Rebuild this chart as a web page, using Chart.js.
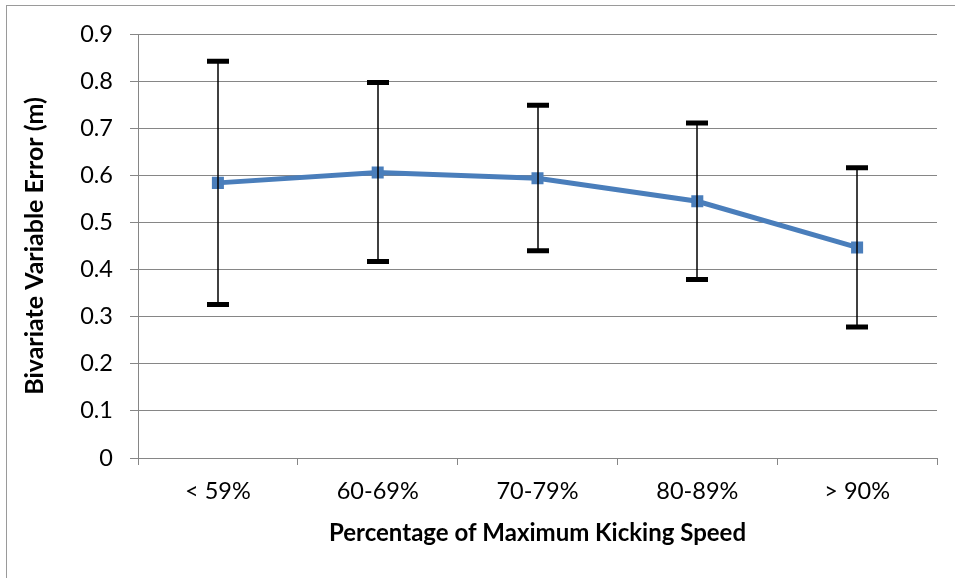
<!DOCTYPE html>
<html>
<head>
<meta charset="utf-8">
<script src="https://cdn.jsdelivr.net/npm/chart.js@4/dist/chart.umd.min.js"></script>
<style>
  html, body { margin: 0; padding: 0; background: #fff; }
  #wrap { width: 955px; height: 578px; position: relative; }
</style>
</head>
<body>
<div id="wrap"><canvas id="errChart" width="955" height="578"></canvas></div>
<script>
// data
const speedLabels = ['< 59%', '60-69%', '70-79%', '80-89%', '> 90%'];
const meanError = [0.584, 0.606, 0.594, 0.545, 0.447];
const errUpper = [0.842, 0.797, 0.749, 0.711, 0.616];
const errLower = [0.326, 0.417, 0.440, 0.379, 0.278];
const yTicks = [0, 0.1, 0.2, 0.3, 0.4, 0.5, 0.6, 0.7, 0.8, 0.9];

const FONT = 'Lato, "Open Sans", sans-serif';
const GRID = '#868686';

// error bars + outer frame
const errorBars = {
    id: 'errorBars',
    beforeDraw(chart) {
        const c = chart.ctx;
        c.save();
        c.strokeStyle = '#9a9a9a';
        c.lineWidth = 1;
        c.strokeRect(6.5, 5.5, 1200, 1200);
        c.restore();
    },
    afterDatasetsDraw(chart) {
        const c = chart.ctx;
        const xs = chart.scales.x, ys = chart.scales.y;
        c.save();
        c.strokeStyle = '#000';
        for (let i = 0; i < speedLabels.length; i++) {
            const x = Math.round(xs.getPixelForValue(i));
            const top = ys.getPixelForValue(errUpper[i]);
            const bot = ys.getPixelForValue(errLower[i]);
            c.lineWidth = 1.5;
            c.beginPath();
            c.moveTo(x, top);
            c.lineTo(x, bot);
            c.stroke();
            c.lineWidth = 5;
            c.beginPath();
            c.moveTo(x - 11, top);
            c.lineTo(x + 11, top);
            c.moveTo(x - 11, bot);
            c.lineTo(x + 11, bot);
            c.stroke();
        }
        c.restore();
    }
};

const ctx = document.getElementById('errChart');

const chart = new Chart(ctx, {
    type: 'line',
    data: {
        labels: speedLabels,
        datasets: [{
            data: meanError,
            borderColor: '#4A7EBB',
            backgroundColor: '#4A7EBB',
            borderWidth: 5,
            pointStyle: 'rect',
            pointRadius: 8.5,
            pointBorderWidth: 0,
            tension: 0
        }]
    },
    options: {
        responsive: false,
        animation: false,
        events: [],
        layout: { padding: { left: 20, top: 34, right: 18, bottom: 30 } },
        plugins: {
            legend: { display: false },
            tooltip: { enabled: false }
        },
        scales: {
            x: {
                offset: true,
                afterFit: s => { s.height = 90; },
                grid: {
                    offset: true,
                    drawOnChartArea: false,
                    color: GRID,
                    tickLength: 7
                },
                border: { color: GRID, width: 1 },
                ticks: {
                    color: '#000',
                    padding: 12,
                    font: { family: FONT, size: 23.5 }
                },
                title: {
                    display: true,
                    text: 'Percentage of Maximum Kicking Speed',
                    color: '#000',
                    padding: { top: 8, bottom: 0 },
                    font: { family: FONT, size: 24, weight: 'bold' }
                }
            },
            y: {
                min: 0,
                max: 0.9,
                afterBuildTicks: s => { s.ticks = yTicks.map(v => ({ value: v })); },
                afterFit: s => { s.width = 118; },
                grid: { color: GRID, tickLength: 8 },
                border: { color: GRID, width: 1 },
                ticks: {
                    color: '#000',
                    padding: 17,
                    font: { family: FONT, size: 23.5 },
                    callback: v => v === 0 ? '0' : v.toFixed(1)
                },
                title: {
                    display: true,
                    text: 'Bivariate Variable Error (m)',
                    color: '#000',
                    padding: 0,
                    font: { family: FONT, size: 25, weight: 'bold' }
                }
            }
        }
    },
    plugins: [errorBars]
});
</script>
</body>
</html>
